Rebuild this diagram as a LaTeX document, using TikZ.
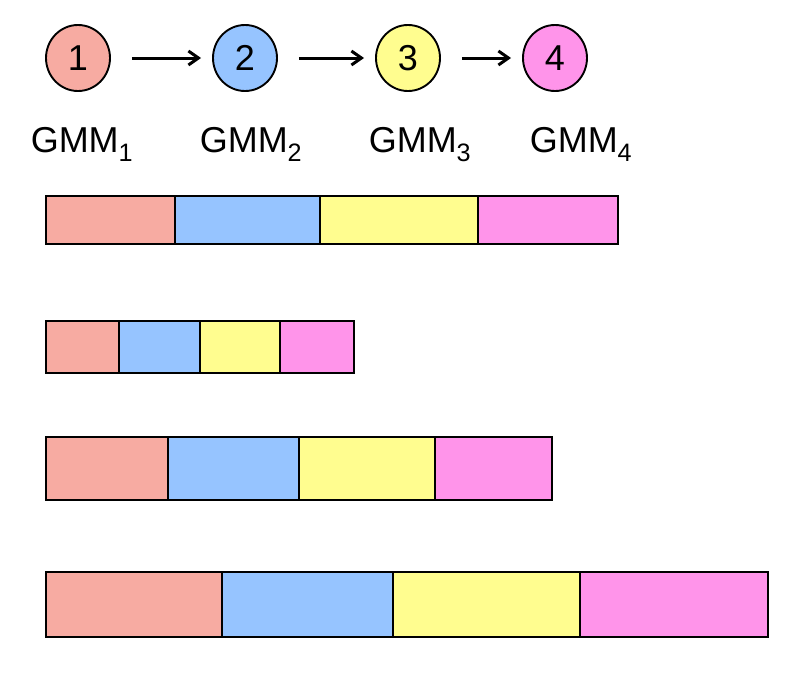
\documentclass[tikz,border=0pt]{standalone}
\usepackage{fontspec}
\setmainfont{Liberation Sans}
\usepackage{xcolor}
\definecolor{gmmred}{RGB}{247,171,162}
\definecolor{gmmblue}{RGB}{150,196,255}
\definecolor{gmmyellow}{RGB}{255,253,143}
\definecolor{gmmpink}{RGB}{255,148,234}
\usepackage{tikz}
\usetikzlibrary{arrows.meta,positioning,shapes.geometric}
\tikzset{
  gmm/.style={draw=black,line width=1.9pt,ellipse,minimum width=64pt,minimum height=66pt,inner sep=0pt,font=\fontsize{36}{36}\selectfont},
  lbl/.style={inner sep=0pt,font=\fontsize{36}{40}\selectfont},
  seg/.style={draw=black,line width=2pt,anchor=north west,inner sep=0pt,outer sep=0pt},
  flow/.style={-{Straight Barb[length=10pt,width=14pt]},line width=3pt,shorten <=21pt,shorten >=11pt},
}

\begin{document}
\begin{tikzpicture}[x=1pt,y=-1pt]
\useasboundingbox (0,0) rectangle (807,680);
% mixture components
\node[gmm,fill=gmmred] (g1) at (78,58) {1};
\node[gmm,fill=gmmblue] (g2) at (245,58) {2};
\node[gmm,fill=gmmyellow] (g3) at (408,58) {3};
\node[gmm,fill=gmmpink] (g4) at (555,58) {4};
\draw[flow] (g1) -- (g2);
\draw[flow] (g2) -- (g3);
\draw[flow] (g3) -- (g4);
% names
\node[lbl,below=35pt of g1,xshift=4pt] (l1) {GMM\textsubscript{1}};
\node[lbl,below=35pt of g2,xshift=6pt] (l2) {GMM\textsubscript{2}};
\node[lbl,below=35pt of g3,xshift=12pt] (l3) {GMM\textsubscript{3}};
\node[lbl,below=35pt of g4,xshift=26pt] (l4) {GMM\textsubscript{4}};
% bars: name/top/height/x edges
\foreach \row/\top/\hgt/\xa/\xb/\xc/\xd/\xe in {a/196/48/46/175/320/478/618,b/321/52/46/119/200/280/354,c/437/63/46/168/299/435/552,d/572/65/46/222/393/580/768}{
  \node[seg,fill=gmmred,minimum width={\xb-\xa},minimum height=\hgt] (\row1) at (\xa,\top) {};
  \node[seg,fill=gmmblue,minimum width={\xc-\xb},minimum height=\hgt] (\row2) at (\xb,\top) {};
  \node[seg,fill=gmmyellow,minimum width={\xd-\xc},minimum height=\hgt] (\row3) at (\xc,\top) {};
  \node[seg,fill=gmmpink,minimum width={\xe-\xd},minimum height=\hgt] (\row4) at (\xd,\top) {};
}
\end{tikzpicture}
\end{document}
